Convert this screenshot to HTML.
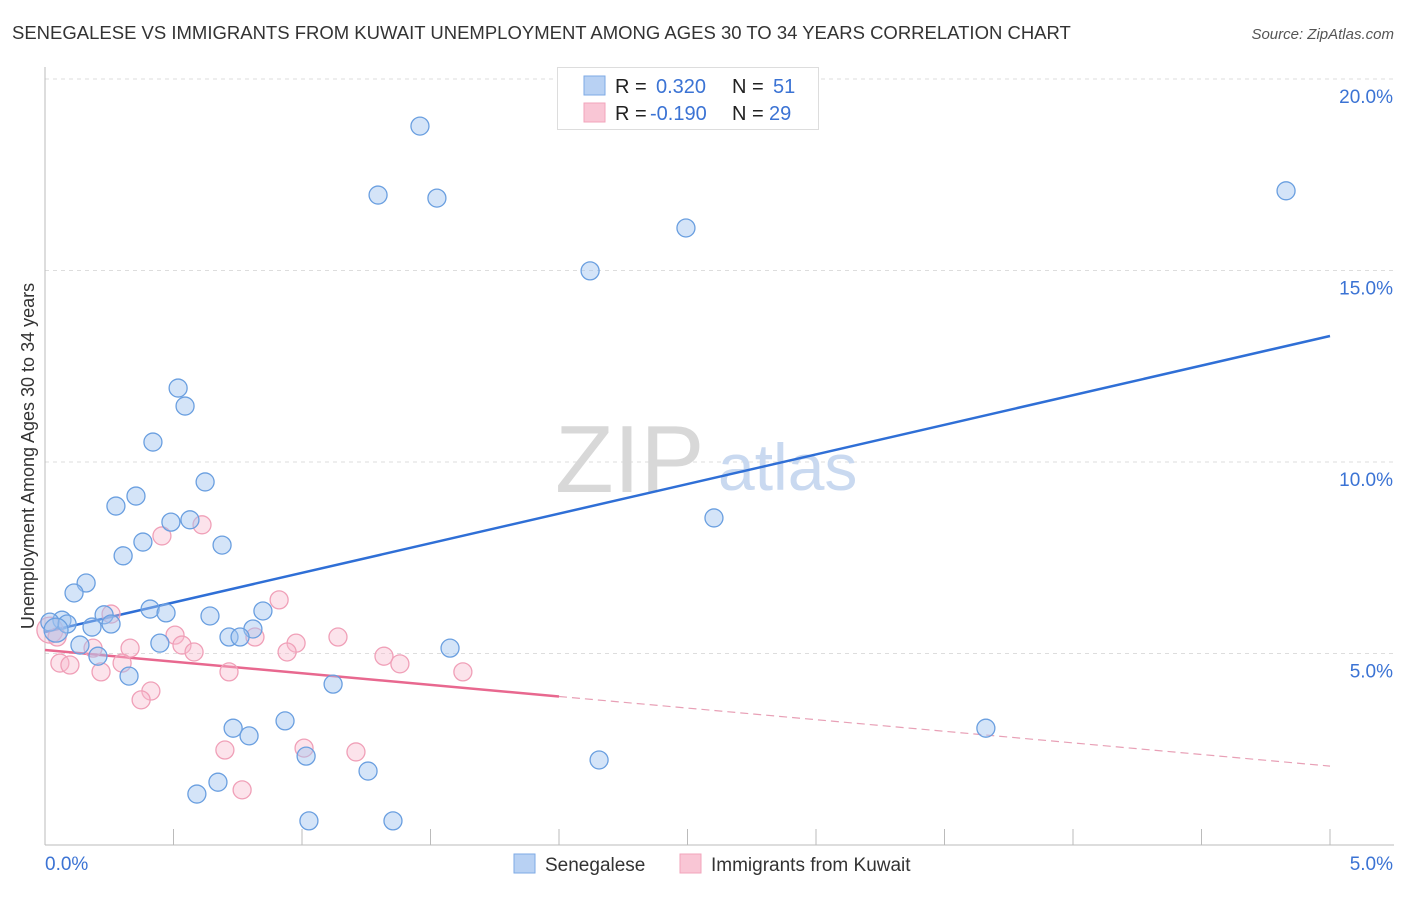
<!DOCTYPE html>
<html><head><meta charset="utf-8"><style>
body{margin:0;background:#fff;font-family:"Liberation Sans",sans-serif;}
svg text{font-family:"Liberation Sans",sans-serif;}
</style></head><body>
<svg id="chart" width="1406" height="892" viewBox="0 0 1406 892" xmlns="http://www.w3.org/2000/svg">
<text x="12" y="39" font-size="18.5" fill="#333">SENEGALESE VS IMMIGRANTS FROM KUWAIT UNEMPLOYMENT AMONG AGES 30 TO 34 YEARS CORRELATION CHART</text>
<text x="1394" y="39" font-size="15" fill="#555" font-style="italic" text-anchor="end">Source: ZipAtlas.com</text>
<g id="grid"></g>
<g id="axes"></g>
<text x="555" y="492" font-size="96" fill="#d8d8d8" font-family="Liberation Serif">ZIP</text>
<text x="718" y="490" font-size="66" fill="#c9d9f0">atlas</text>
<g id="trend"></g>
<g id="pts"></g>
<text transform="translate(34,456) rotate(-90)" font-size="18" fill="#333" text-anchor="middle">Unemployment Among Ages 30 to 34 years</text>
<g>
<rect x="557.5" y="67.5" width="261" height="62" fill="#fff" stroke="#ddd"/>
<rect x="584" y="76" width="21" height="19" fill="#b8d1f3" stroke="#7eaae6"/>
<rect x="584" y="103" width="21" height="19" fill="#f9c6d5" stroke="#f2a4bb"/>
<text x="615" y="93" font-size="20" fill="#222">R = </text><text x="656" y="93" font-size="20" fill="#3b73d4">0.320</text>
<text x="732" y="93" font-size="20" fill="#222">N = </text><text x="773" y="93" font-size="20" fill="#3b73d4">51</text>
<text x="615" y="120" font-size="20" fill="#222">R = </text><text x="650" y="120" font-size="20" fill="#3b73d4">-0.190</text>
<text x="732" y="120" font-size="20" fill="#222">N = </text><text x="769" y="120" font-size="20" fill="#3b73d4">29</text>
</g>
<g>
<rect x="514" y="854" width="21" height="19" fill="#b8d1f3" stroke="#7eaae6"/>
<text x="545" y="871" font-size="19" fill="#333">Senegalese</text>
<rect x="680" y="854" width="21" height="19" fill="#f9c6d5" stroke="#f2a4bb"/>
<text x="711" y="871" font-size="19" fill="#333">Immigrants from Kuwait</text>
</g>
</svg>
<script>
const blueX=[1.459,1.296,1.525,2.494,2.121,4.829,0.518,0.545,0.420,0.623,0.354,0.276,0.490,0.564,0.381,0.689,0.304,0.160,0.113,2.603,0.409,0.471,0.230,0.642,0.848,0.066,0.019,0.086,0.183,0.257,0.809,0.716,0.759,0.447,0.136,1.576,0.206,0.327,1.121,0.732,0.934,0.794,3.661,1.016,2.156,1.257,0.673,0.591,1.027,1.354,0.043];
const blueY=[18.77,16.97,16.89,16.11,14.99,17.08,11.93,11.46,10.52,9.48,9.11,8.85,8.43,8.49,7.91,7.83,7.55,6.84,6.58,8.54,6.16,6.06,6.01,5.98,6.11,5.87,5.82,5.77,5.69,5.77,5.64,5.43,5.43,5.27,5.22,5.14,4.93,4.41,4.20,3.05,3.24,2.85,3.05,2.32,2.22,1.93,1.64,1.33,0.63,0.63,5.61];
const pinkX=[0.455,0.611,0.257,0.911,0.019,0.047,0.506,0.533,0.187,0.331,0.580,1.140,0.977,0.817,0.942,1.319,1.381,0.300,0.058,0.097,0.218,0.716,1.626,0.412,0.374,0.700,1.008,1.210,0.767];
const pinkY=[8.07,8.36,6.03,6.40,5.61,5.43,5.48,5.22,5.14,5.14,5.04,5.43,5.27,5.43,5.04,4.93,4.73,4.75,4.75,4.70,4.52,4.52,4.52,4.02,3.79,2.48,2.53,2.43,1.44];
const blueTrend=[5.56,13.29];
const pinkTrend=[5.09,2.06];
const pinkSolidEnd=2.0;
const yTicks=[5,10,15,20];
const yTickLabels=["5.0%","10.0%","15.0%","20.0%"];
const xTickLabels=["0.0%","5.0%"];
const NS="http://www.w3.org/2000/svg";
const xs=v=>45+v*1285/5;
const ys=v=>845-v*766/20;
function mk(tag,attrs,parent){const e=document.createElementNS(NS,tag);for(const k in attrs)e.setAttribute(k,attrs[k]);document.getElementById(parent).appendChild(e);return e;}
yTicks.forEach((t,i)=>{
  const l=mk('line',{x1:45,x2:1394,y1:ys(t),y2:ys(t),stroke:'#ddd','stroke-dasharray':'4 4'},'grid');
  
  
  const tx=mk('text',{x:1393,y:ys(t)+24,'font-size':19,fill:'#3b73d4','text-anchor':'end'},'grid');
  tx.textContent=yTickLabels[i];
  
  
});
const ax=mk('line',{x1:45,x2:45,y1:67,y2:845,stroke:'#bbb'},'axes');


const bx=mk('line',{x1:45,x2:1394,y1:845,y2:845,stroke:'#bbb'},'axes');


for(let i=0;i<=10;i++){
  const t=mk('line',{x1:xs(i*0.5),x2:xs(i*0.5),y1:829,y2:845,stroke:'#bbb'},'axes');
  
  
}
[[0,'start'],[5,'end']].forEach((p,i)=>{
  const tx=mk('text',{x:i?1393:45,y:870,'font-size':19,fill:'#3b73d4','text-anchor':p[1]},'axes');
  tx.textContent=xTickLabels[i];
  
  
});
const bl=mk('line',{x1:xs(0),y1:ys(blueTrend[0]),x2:xs(5),y2:ys(blueTrend[1]),stroke:'#2f6fd6','stroke-width':2.5},'trend');


const pm=pinkTrend[0]+(pinkTrend[1]-pinkTrend[0])*pinkSolidEnd/5;
const pl=mk('line',{x1:xs(0),y1:ys(pinkTrend[0]),x2:xs(pinkSolidEnd),y2:ys(pm),stroke:'#e8688f','stroke-width':2.5},'trend');


const pd=mk('line',{x1:xs(pinkSolidEnd),y1:ys(pm),x2:xs(5),y2:ys(pinkTrend[1]),stroke:'#e8a0b6','stroke-width':1.2,'stroke-dasharray':'8 5'},'trend');


pinkX.forEach((x,i)=>{
  const c=mk('circle',{cx:xs(x),cy:ys(pinkY[i]),r:i===4?13:9,fill:'rgba(248,185,205,0.4)',stroke:'#f0a0b8','stroke-width':1.3},'pts');
  
  
});
blueX.forEach((x,i)=>{
  const c=mk('circle',{cx:xs(x),cy:ys(blueY[i]),r:i===50?12:9,fill:'rgba(160,195,240,0.45)',stroke:'#6a9fe0','stroke-width':1.3},'pts');
  
  
});
</script>
</body></html>
